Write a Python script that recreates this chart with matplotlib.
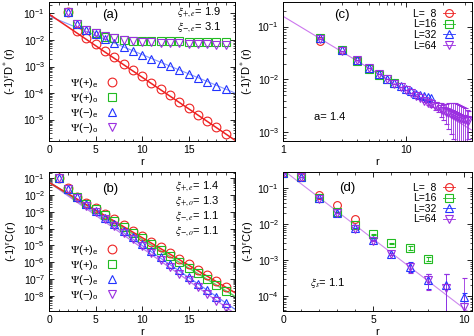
import numpy as np
import matplotlib
matplotlib.use('Agg')
import matplotlib.pyplot as plt
from matplotlib.lines import Line2D
from matplotlib.ticker import MultipleLocator, LogLocator, NullFormatter

plt.rcParams['font.family'] = ['Liberation Sans', 'DejaVu Sans']
plt.rcParams['mathtext.fontset'] = 'stix'

# ---------------- data ----------------
# panel (a): (-1)^r D*(r)
r_a = list(range(2, 20))
a_plus_e = [0.110, 0.0209, 0.01175, 0.00676, 0.00389, 0.00224, 0.00129, 7.4e-4, 4.27e-4,
            2.45e-4, 1.41e-4, 8.1e-5, 4.7e-5, 2.7e-5, 1.55e-5, 8.9e-6, 5.1e-6, 2.9e-6]
a_plus_o = [0.110, 0.0389, 0.0240, 0.0178, 0.0135, 0.0117, 0.0100, 0.0093, 0.0091,
            0.0091, 0.0089, 0.0089, 0.0089, 0.0087, 0.0087, 0.0087, 0.0087, 0.0087]
a_minus_e = [0.110, 0.0389, 0.0240, 0.0166, 0.0112, 0.0076, 0.0054, 0.0039, 0.00275,
             0.0020, 0.00141, 0.00102, 7.2e-4, 5.2e-4, 3.7e-4, 2.7e-4, 1.9e-4, 1.38e-4]
a_minus_o = [0.110, 0.0389, 0.0240, 0.0178, 0.0141, 0.0117, 0.0100, 0.0089, 0.0085,
             0.0081, 0.0079, 0.0076, 0.0074, 0.0071, 0.0069, 0.0068, 0.0066, 0.0063]
a_fit_amp = [0.093, 0.079]      # (+)e, (-)e
a_fit_xi = [1.83, 3.0]

# panel (b): (-1)^r C(r)
r_b = list(range(1, 20))
b_plus_e = [0.105, 0.0251, 0.0083, 0.00355, 0.00166, 7.6e-4, 3.55e-4, 1.66e-4, 7.6e-5, 3.55e-5,
            1.66e-5, 7.6e-6, 3.55e-6, 1.66e-6, 7.6e-7, 3.55e-7, 1.66e-7, 7.6e-8, 3.55e-8]
b_plus_o = [0.105, 0.024, 0.0079, 0.00316, 0.00141, 6.5e-4, 2.9e-4, 1.29e-4, 5.9e-5, 2.63e-5,
            1.17e-5, 5.2e-6, 2.4e-6, 1.07e-6, 4.8e-7, 2.2e-7, 9.8e-8, 4.4e-8, 1.95e-8]
b_minus_e = [0.107, 0.0234, 0.0074, 0.00282, 0.00115, 4.6e-4, 1.86e-4, 7.6e-5, 3.0e-5, 1.23e-5,
             5.0e-6, 2.0e-6, 8.1e-7, 3.3e-7, 1.35e-7, 5.4e-8, 2.2e-8, 8.9e-9, 3.6e-9]
b_minus_o = [0.102, 0.0219, 0.0066, 0.0024, 9.5e-4, 3.7e-4, 1.48e-4, 5.75e-5, 2.3e-5, 8.9e-6,
             3.55e-6, 1.38e-6, 5.5e-7, 2.14e-7, 8.5e-8, 3.3e-8, 1.32e-8, 5.1e-9, 2.0e-9]
b_fit_amp = [0.056, 0.056, 0.063, 0.056]
b_fit_xi = [1.324, 1.281, 1.143, 1.113]

# panel (c): (-1)^r D*(r), log-log
c_r8 = [2, 3, 4]
c_L8 = [0.054, 0.0355, 0.0219]
c_r16 = list(range(2, 9))
c_L16 = [0.060, 0.0363, 0.0224, 0.0158, 0.0123, 0.0100, 0.0085]
c_r32 = list(range(2, 17))
c_L32 = [0.060, 0.0363, 0.0234, 0.0166, 0.0129, 0.0102, 0.0085, 0.0074, 0.0066, 0.0060,
         0.0054, 0.0050, 0.0048, 0.0047, 0.0045]
c_r64 = list(range(2, 33))
c_L64 = [0.059, 0.0347, 0.0229, 0.0162, 0.0126, 0.0100, 0.0083, 0.0071, 0.0062, 0.0055,
         0.0049, 0.0044, 0.0040, 0.0036, 0.0034, 0.0032, 0.0030, 0.00275, 0.0026, 0.00245,
         0.00234, 0.00224, 0.00214, 0.00204, 0.00195, 0.0019, 0.00182, 0.00178, 0.00174,
         0.0017, 0.00166]
c_L64_err = [0, 0, 0, 0, 0, 0, 0, 0, 0, 0, 0, 0,
             0.0002, 0.0003, 0.0004, 0.0005, 0.0006, 0.0008, 0.0009, 0.0010, 0.0012, 0.0013,
             0.0014, 0.0015, 0.0015, 0.0014, 0.0013, 0.0012, 0.0011, 0.0010, 0.0009]
c_fit_amp = 0.155
c_fit_a = 1.4

# panel (d): (-1)^r C(r)
d_r8 = list(range(0, 5))
d_L8 = [0.263, 0.204, 0.0646, 0.0339, 0.0138]
d_r16 = list(range(0, 9))
d_L16 = [0.263, 0.204, 0.0537, 0.0219, 0.0095, 0.0052, 0.00295, 0.00224, 0.00107]
d_L16_err = [0, 0, 0, 0, 0, 0.0001, 0.0001, 0.0003, 0.00015]
d_r32 = list(range(0, 11))
d_L32 = [0.263, 0.204, 0.0525, 0.0209, 0.0079, 0.00363, 0.00145, 6.6e-4, 2.8e-4, 2.0e-4, 9.5e-5]
d_L32_err = [0, 0, 0, 0, 0, 0.0001, 0.0001, 0.0002, 0.00012, 0.00022, 0.00003]
d_r64 = list(range(0, 11))
d_L64 = [0.263, 0.20, 0.050, 0.020, 0.0074, 0.00347, 0.00145, 6.3e-4, 2.75e-4, 1.66e-4, 5.0e-5]
d_L64_err = [0, 0, 0, 0, 0, 0.0001, 0.0001, 0.0002, 0.00013, 0.00024, 0.00026]
d_fit_amp = 0.32
d_fit_xi = 1.13

psi_labels = [r'$\Psi$(+)$_\mathregular{e}$', r'$\Psi$(+)$_\mathregular{o}$',
              r'$\Psi$(−)$_\mathregular{e}$', r'$\Psi$(−)$_\mathregular{o}$']
L_labels = ['L=  8', 'L=16', 'L=32', 'L=64']

# ---------------- style ----------------
RED, GREEN, BLUE, PURPLE = '#ee2222', '#22bb22', '#2233ff', '#9b30e0'
COLORS = [RED, GREEN, BLUE, PURPLE]
MARKERS = ['o', 's', '^', 'v']
MS = 6.3
MEW = 0.8
TFS = 7.5
AFS = 8

fig = plt.figure(figsize=(4.74, 3.36), dpi=100)
W, H = 474.0, 336.0


def make_ax(x0, x1, y0, y1):
    return fig.add_axes([x0 / W, 1 - y1 / H, (x1 - x0) / W, (y1 - y0) / H])


ax_a = make_ax(49.3, 235.0, 2.0, 140.7)
ax_c = make_ax(283.3, 471.7, 2.0, 140.7)
ax_b = make_ax(49.3, 235.0, 171.7, 310.7)
ax_d = make_ax(283.3, 471.7, 171.7, 310.7)


def style(ax, linx=True):
    ax.set_yscale('log')
    ax.tick_params(which='both', direction='in', top=True, right=True, labelsize=TFS, pad=3)
    ax.tick_params(which='major', length=3.5, width=0.6)
    ax.tick_params(which='minor', length=1.8, width=0.5)
    ax.yaxis.set_major_locator(LogLocator(base=10, numticks=20))
    ax.yaxis.set_minor_locator(LogLocator(base=10, subs=np.arange(2, 10), numticks=20))
    ax.yaxis.set_minor_formatter(NullFormatter())
    for s in ax.spines.values():
        s.set_linewidth(0.7)
    if linx:
        ax.xaxis.set_minor_locator(MultipleLocator(1))


def mk(ax, x, y, i, **kw):
    ax.plot(x, y, ls='none', marker=MARKERS[i], ms=MS, mfc='none', mec=COLORS[i], mew=MEW, **kw)


def labels(ax, ylab, ylx):
    ax.set_ylabel(ylab, fontsize=8)
    ax.yaxis.set_label_coords(ylx, 0.5)
    ax.set_xlabel('r', fontsize=8, va='top')
    ax.xaxis.set_label_coords(0.5, -0.115)


# ----- (a) -----
ax = ax_a
style(ax)
rr = np.linspace(0, 20, 50)
ax.plot(rr, a_fit_amp[1] * np.exp(-rr / a_fit_xi[1]), color='#8899ff', lw=0.8)
ax.plot(rr, a_fit_amp[0] * np.exp(-rr / a_fit_xi[0]), color=RED, lw=1.1)
for i, ys in enumerate([a_plus_e, a_plus_o, a_minus_e, a_minus_o]):
    mk(ax, r_a, ys, i)
ax.set_xlim(0, 20)
ax.set_ylim(1.6e-6, 0.27)
ax.set_xticks([0, 5, 10, 15])
labels(ax, r'(-1)$^\mathregular{r}$D$^*$(r)', -0.165)
ax.text(0.33, 0.905, '(a)', transform=ax.transAxes, fontsize=9.5, ha='center', va='center')
ax.text(0.685, 0.925, r'$\xi_{+,e}$= 1.9', transform=ax.transAxes, fontsize=AFS, va='center')
ax.text(0.685, 0.815, r'$\xi_{-,e}$= 3.1', transform=ax.transAxes, fontsize=AFS, va='center')
handles = [Line2D([], [], ls='none', marker=MARKERS[i], ms=MS, mfc='none', mec=COLORS[i], mew=MEW)
           for i in range(4)]
ax.legend(handles, psi_labels, loc='center', bbox_to_anchor=(0.24, 0.255), frameon=False,
          markerfirst=False, handlelength=1.0, handletextpad=0.7, labelspacing=0.1,
          fontsize=8, borderpad=0)

# ----- (b) -----
ax = ax_b
style(ax)
fit_cols = [RED, '#66cc66', '#7788ff', '#bb77ee']
fit_lw = [1.1, 1.1, 0.9, 0.9]
for i in [3, 2, 1, 0]:
    ax.plot(rr, b_fit_amp[i] * np.exp(-rr / b_fit_xi[i]), color=fit_cols[i], lw=fit_lw[i])
for i, ys in enumerate([b_plus_e, b_plus_o, b_minus_e, b_minus_o]):
    mk(ax, r_b, ys, i)
ax.set_xlim(0, 20)
ax.set_ylim(1.3e-9, 0.25)
ax.set_xticks([0, 5, 10, 15])
labels(ax, r'(-1)$^\mathregular{r}$C(r)', -0.165)
ax.text(0.33, 0.875, '(b)', transform=ax.transAxes, fontsize=9.5, ha='center', va='center')
for lab, yy in zip([r'$\xi_{+,e}$= 1.4', r'$\xi_{+,o}$= 1.3',
                    r'$\xi_{-,e}$= 1.1', r'$\xi_{-,o}$= 1.1'],
                   [0.895, 0.785, 0.675, 0.565]):
    ax.text(0.675, yy, lab, transform=ax.transAxes, fontsize=AFS, va='center')
ax.legend(handles, psi_labels, loc='center', bbox_to_anchor=(0.24, 0.275), frameon=False,
          markerfirst=False, handlelength=1.0, handletextpad=0.7, labelspacing=0.1,
          fontsize=8, borderpad=0)


def clipped_err(y, e):
    y = np.asarray(y, float)
    e = np.asarray(e, float)
    lo = np.minimum(e, y * 0.999)
    return np.vstack([lo, e])


EB = dict(ls='none', ms=5.6, mfc='none', mew=MEW, elinewidth=0.6, capsize=1.8, capthick=0.6)

# ----- (c) -----
ax = ax_c
style(ax, linx=False)
ax.set_xscale('log')
ax.xaxis.set_minor_formatter(NullFormatter())
rl = np.logspace(0, np.log10(34), 50)
ax.plot(rl, c_fit_amp * rl ** (-c_fit_a), color='#cc77ee', lw=0.8)
cdata = [(c_r8, c_L8, None), (c_r16, c_L16, None), (c_r32, c_L32, None), (c_r64, c_L64, c_L64_err)]
for i, (x, y, e) in enumerate(cdata):
    err = None if e is None else clipped_err(y, e)
    ax.errorbar(x, y, yerr=err, marker=MARKERS[i], mec=COLORS[i], ecolor=COLORS[i], **EB)
ax.set_xlim(1, 34)
ax.set_ylim(7e-4, 0.29)
ax.set_xticks([1, 10])
ax.set_xticklabels(['1', '10'])
labels(ax, r'(-1)$^\mathregular{r}$D$^*$(r)', -0.145)
ax.text(0.31, 0.905, '(c)', transform=ax.transAxes, fontsize=9.5, ha='center', va='center')
ax.text(0.163, 0.173, 'a= 1.4', transform=ax.transAxes, fontsize=AFS, va='center')
Lhandles = [Line2D([], [], color=COLORS[i], lw=0.6, marker=MARKERS[i], ms=5.6, mfc='none',
                   mec=COLORS[i], mew=MEW) for i in range(4)]
ax.legend(Lhandles, L_labels, loc='center', bbox_to_anchor=(0.80, 0.80), frameon=False,
          markerfirst=False, handlelength=1.1, handletextpad=0.6, labelspacing=0.05,
          fontsize=7.5, borderpad=0)

# ----- (d) -----
ax = ax_d
style(ax)
rd = np.linspace(0, 10.45, 50)
ax.plot(rd, d_fit_amp * np.exp(-rd / d_fit_xi), color='#cc88ee', lw=0.8)
ddata = [(d_r8, d_L8, None), (d_r16, d_L16, d_L16_err), (d_r32, d_L32, d_L32_err),
         (d_r64, d_L64, d_L64_err)]
for i, (x, y, e) in enumerate(ddata):
    err = None if e is None else clipped_err(y, e)
    ax.errorbar(x, y, yerr=err, marker=MARKERS[i], mec=COLORS[i], ecolor=COLORS[i], **EB)
ax.set_xlim(0, 10.45)
ax.set_ylim(3.9e-5, 0.29)
ax.set_xticks([0, 5, 10])
labels(ax, r'(-1)$^\mathregular{r}$C(r)', -0.145)
ax.text(0.34, 0.88, '(d)', transform=ax.transAxes, fontsize=9.5, ha='center', va='center')
ax.text(0.142, 0.197, r'$\xi_s$= 1.1', transform=ax.transAxes, fontsize=AFS, va='center')
ax.legend(Lhandles, L_labels, loc='center', bbox_to_anchor=(0.80, 0.77), frameon=False,
          markerfirst=False, handlelength=1.1, handletextpad=0.6, labelspacing=0.05,
          fontsize=7.5, borderpad=0)

fig.savefig('out.png', dpi=100)
